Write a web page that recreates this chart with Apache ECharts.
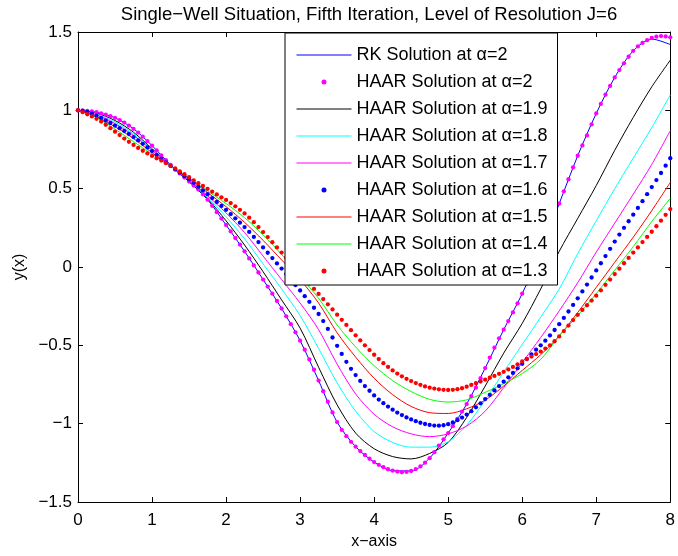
<!DOCTYPE html>
<html><head><meta charset="utf-8">
<script src="https://cdn.jsdelivr.net/npm/echarts@6/dist/echarts.min.js"></script>
<style>html,body{margin:0;padding:0;background:#fff}#c{width:678px;height:556px}</style>
</head><body><div id="c"></div>
<script>
// coarse grid for the solid curves
const xGrid = [0,0.25,0.5,0.75,1,1.25,1.5,1.75,2,2.25,2.5,2.75,3,3.25,3.5,3.75,4,4.25,4.5,4.75,5,5.25,5.5,5.75,6,6.25,6.5,6.75,7,7.25,7.5,7.75,8];
// collocation grid for the dotted HAAR curves (128 subintervals on [0,8], J=6)
const nDense = 128, xMax = 8;
const xDense = [];
for (let i = 0; i <= nDense; i++) xDense.push(i * xMax / nDense);

const yRK   = [1,0.988,0.952,0.882,0.775,0.652,0.545,0.430,0.268,0.100,-0.080,-0.265,-0.470,-0.725,-0.990,-1.147,-1.245,-1.300,-1.302,-1.220,-1.060,-0.875,-0.645,-0.400,-0.170,0.100,0.405,0.710,0.980,1.210,1.380,1.455,1.420];
const yH19  = [1,0.982,0.935,0.86,0.755,0.645,0.545,0.435,0.295,0.14,-0.03,-0.21,-0.39,-0.64,-0.88,-1.06,-1.16,-1.21,-1.225,-1.19,-1.12,-0.96,-0.76,-0.55,-0.36,-0.14,0.10,0.31,0.52,0.745,0.955,1.15,1.32];
const yH18  = [1,0.975,0.925,0.85,0.75,0.645,0.55,0.445,0.32,0.18,0.02,-0.14,-0.31,-0.52,-0.74,-0.92,-1.05,-1.12,-1.15,-1.15,-1.115,-1.01,-0.85,-0.67,-0.495,-0.32,-0.14,0.085,0.295,0.50,0.695,0.89,1.098];
const yH17  = [1,0.97,0.915,0.84,0.745,0.645,0.555,0.455,0.345,0.22,0.07,-0.08,-0.23,-0.40,-0.62,-0.81,-0.94,-1.02,-1.065,-1.083,-1.065,-1.015,-0.92,-0.77,-0.61,-0.45,-0.28,-0.10,0.095,0.28,0.465,0.655,0.87];
const yH15  = [1,0.96,0.895,0.82,0.73,0.645,0.565,0.475,0.385,0.285,0.17,0.045,-0.08,-0.23,-0.42,-0.575,-0.71,-0.815,-0.89,-0.93,-0.935,-0.905,-0.85,-0.76,-0.66,-0.56,-0.44,-0.29,-0.13,0.03,0.19,0.36,0.54];
const yH14  = [1,0.955,0.88,0.80,0.72,0.645,0.565,0.485,0.405,0.315,0.205,0.08,-0.06,-0.20,-0.37,-0.51,-0.63,-0.725,-0.795,-0.845,-0.862,-0.848,-0.80,-0.745,-0.68,-0.59,-0.44,-0.31,-0.17,-0.02,0.13,0.29,0.438];

const yH20 = [1.000,0.999,0.997,0.993,0.988,0.981,0.973,0.963,0.952,0.938,0.922,0.903,0.882,0.858,0.832,0.804,
0.775,0.744,0.712,0.682,0.652,0.624,0.597,0.571,0.545,0.520,0.494,0.464,0.430,0.391,0.350,0.309,
0.268,0.227,0.185,0.143,0.100,0.055,0.010,-0.035,-0.080,-0.125,-0.170,-0.217,-0.265,-0.315,-0.365,-0.417,
-0.470,-0.528,-0.590,-0.656,-0.725,-0.793,-0.860,-0.928,-0.990,-1.040,-1.080,-1.116,-1.147,-1.175,-1.200,-1.224,
-1.245,-1.263,-1.278,-1.291,-1.300,-1.306,-1.310,-1.308,-1.302,-1.290,-1.273,-1.249,-1.220,-1.182,-1.140,-1.100,
-1.060,-1.016,-0.970,-0.923,-0.875,-0.824,-0.770,-0.710,-0.645,-0.578,-0.515,-0.455,-0.400,-0.345,-0.290,-0.232,
-0.170,-0.106,-0.040,0.029,0.100,0.174,0.250,0.327,0.405,0.483,0.560,0.636,0.710,0.776,0.840,0.910,
0.980,1.041,1.100,1.156,1.210,1.257,1.300,1.342,1.380,1.408,1.430,1.448,1.462,1.470,1.474,1.472,1.466];

const yH16 = [1.000,0.997,0.990,0.979,0.966,0.951,0.935,0.919,0.903,0.886,0.868,0.849,0.829,0.808,0.786,0.763,
0.740,0.716,0.692,0.668,0.645,0.623,0.602,0.581,0.560,0.537,0.513,0.489,0.465,0.440,0.415,0.390,
0.365,0.338,0.311,0.283,0.255,0.224,0.192,0.159,0.125,0.091,0.057,0.023,-0.010,-0.045,-0.080,-0.115,
-0.150,-0.186,-0.222,-0.260,-0.300,-0.345,-0.395,-0.450,-0.503,-0.555,-0.605,-0.650,-0.690,-0.727,-0.760,-0.790,
-0.820,-0.846,-0.869,-0.891,-0.911,-0.929,-0.945,-0.960,-0.973,-0.984,-0.994,-1.002,-1.008,-1.012,-1.013,-1.010,
-1.003,-0.992,-0.978,-0.961,-0.942,-0.920,-0.896,-0.870,-0.843,-0.816,-0.788,-0.760,-0.732,-0.704,-0.676,-0.647,
-0.618,-0.588,-0.558,-0.528,-0.500,-0.470,-0.437,-0.402,-0.365,-0.325,-0.284,-0.242,-0.200,-0.156,-0.112,-0.067,
-0.022,0.024,0.070,0.116,0.162,0.207,0.250,0.292,0.334,0.377,0.420,0.465,0.510,0.555,0.600,0.647,0.694];

const yH13 = [1.000,0.988,0.975,0.961,0.946,0.928,0.908,0.886,0.864,0.842,0.820,0.799,0.779,0.760,0.742,0.725,
0.709,0.694,0.679,0.663,0.646,0.629,0.611,0.592,0.573,0.553,0.535,0.517,0.499,0.481,0.463,0.445,
0.428,0.408,0.387,0.365,0.342,0.315,0.286,0.255,0.223,0.191,0.158,0.125,0.092,0.059,0.026,-0.007,
-0.040,-0.073,-0.106,-0.139,-0.172,-0.205,-0.238,-0.271,-0.304,-0.337,-0.370,-0.403,-0.436,-0.468,-0.500,-0.530,
-0.560,-0.588,-0.614,-0.638,-0.660,-0.680,-0.698,-0.714,-0.728,-0.741,-0.752,-0.762,-0.770,-0.776,-0.781,-0.784,
-0.785,-0.784,-0.780,-0.774,-0.764,-0.753,-0.742,-0.731,-0.719,-0.707,-0.695,-0.682,-0.669,-0.654,-0.638,-0.621,
-0.603,-0.587,-0.572,-0.556,-0.540,-0.521,-0.500,-0.474,-0.443,-0.409,-0.374,-0.339,-0.305,-0.274,-0.244,-0.214,
-0.183,-0.149,-0.114,-0.080,-0.045,-0.011,0.024,0.058,0.092,0.125,0.159,0.192,0.225,0.260,0.296,0.333,0.370];

const names = ['RK Solution at \u03b1=2','HAAR Solution at \u03b1=2','HAAR Solution at \u03b1=1.9','HAAR Solution at \u03b1=1.8','HAAR Solution at \u03b1=1.7','HAAR Solution at \u03b1=1.6','HAAR Solution at \u03b1=1.5','HAAR Solution at \u03b1=1.4','HAAR Solution at \u03b1=1.3'];
const lineNames = [0,2,3,4,6,7];

const pair = (xs, ys) => xs.map((x,i)=>[x,ys[i]]);
const FONT = 'Liberation Sans, Arial, sans-serif';
const minus = v => String(v).replace('-', '\u2212');
function lineS(name, ys, color){
  return {name, type:'line', data:pair(xGrid, ys), smooth:0.3, symbol:'none', lineStyle:{color, width:1}, itemStyle:{color}, animation:false, z:2};
}
function dotS(name, ys, color){
  return {name, type:'scatter', data:pair(xDense, ys), symbol:'circle', symbolSize:4.3, itemStyle:{color, opacity:1}, animation:false, z:3};
}
const chart = echarts.init(document.getElementById('c'), null, {renderer:'canvas'});
const axisCommon = {
  axisLine:{show:true, onZero:false, lineStyle:{color:'#000', width:1}},
  axisTick:{show:true, inside:true, length:5, lineStyle:{color:'#000'}},
  splitLine:{show:false}
};
chart.setOption({
  backgroundColor:'#fff',
  animation:false,
  title:{text:'Single\u2212Well Situation, Fifth Iteration, Level of Resolution J=6', left:364, textAlign:'center', top:0,
    textStyle:{fontFamily:FONT, fontSize:18.5, fontWeight:'normal', color:'#000'}},
  grid:{left:78, right:6, top:32, bottom:54, show:false},
  xAxis:[
    Object.assign({type:'value', min:0, max:8, interval:1, position:'bottom',
      name:'x\u2212axis', nameLocation:'middle', nameGap:32,
      nameTextStyle:{fontFamily:FONT, fontSize:16, color:'#000'},
      axisLabel:{fontFamily:FONT, fontSize:17, color:'#000', margin:10, formatter:minus}}, axisCommon),
    Object.assign({type:'value', min:0, max:8, interval:1, position:'top', axisLabel:{show:false}}, axisCommon)
  ],
  yAxis:[
    Object.assign({type:'value', min:-1.5, max:1.5, interval:0.5, position:'left',
      name:'y(x)', nameLocation:'middle', nameGap:50,
      nameTextStyle:{fontFamily:FONT, fontSize:16, color:'#000'},
      axisLabel:{fontFamily:FONT, fontSize:17, color:'#000', margin:6, formatter:minus}}, axisCommon),
    Object.assign({type:'value', min:-1.5, max:1.5, interval:0.5, position:'right', axisLabel:{show:false}}, axisCommon)
  ],
  legend:{orient:'vertical', left:285, top:33, itemWidth:55, itemHeight:5, itemGap:9,
    backgroundColor:'#fff', borderColor:'#000', borderWidth:1, padding:[13,10,5,11],
    lineStyle:{width:1},
    textStyle:{fontFamily:FONT, fontSize:18, color:'#000'},
    data:names.map((n,i)=> lineNames.includes(i) ? {name:n, itemStyle:{opacity:0}} : {name:n, itemStyle:{opacity:1}})},
  series:[
    lineS(names[0], yRK, '#0000ff'),
    dotS(names[1], yH20, '#ff00ff'),
    lineS(names[2], yH19, '#000000'),
    lineS(names[3], yH18, '#00ffff'),
    lineS(names[4], yH17, '#ff00ff'),
    dotS(names[5], yH16, '#0000ff'),
    lineS(names[6], yH15, '#ff0000'),
    lineS(names[7], yH14, '#00ff00'),
    dotS(names[8], yH13, '#ff0000')
  ]
});
</script></body></html>
